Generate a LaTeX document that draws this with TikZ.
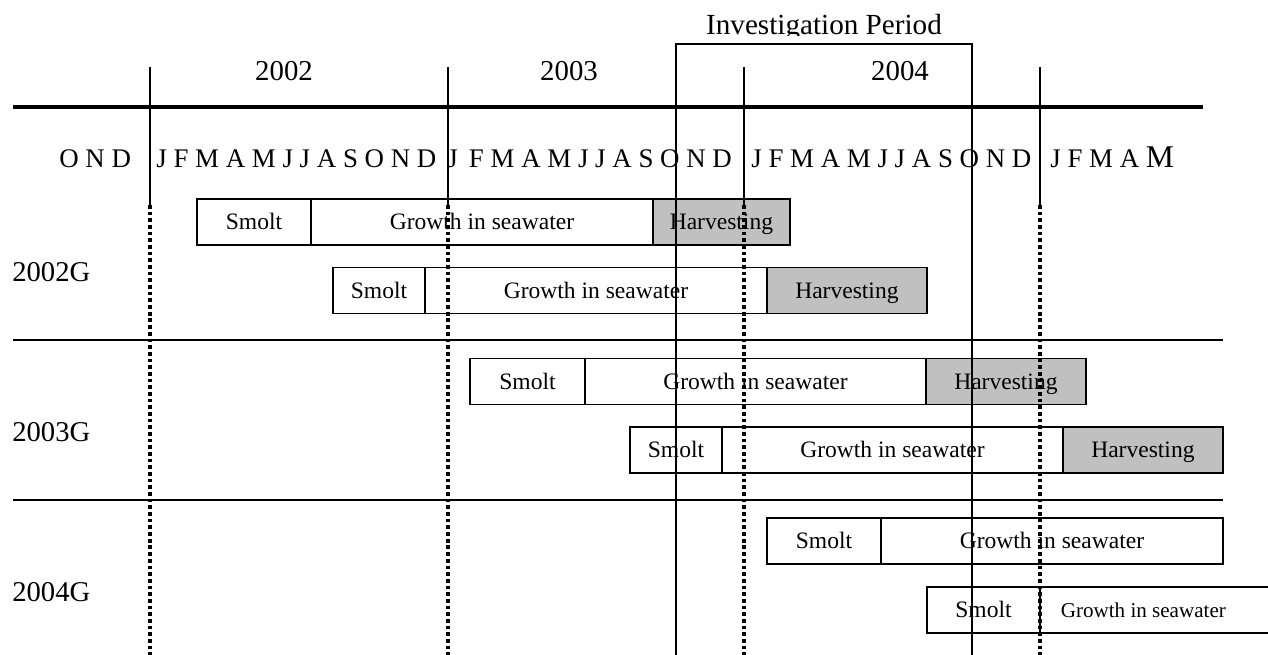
\documentclass[tikz,border=0pt]{standalone}
\usepackage{fontspec}
\setmainfont{Liberation Serif}
\usetikzlibrary{positioning}

\definecolor{harvestgray}{HTML}{C0C0C0}

\tikzset{
  stage/.style={draw, line width=1.1pt, outer sep=0pt, inner sep=0pt,
    minimum height=0.92cm, text height=0.87em, text depth=0pt,
    font=\fontsize{13.4}{15}\selectfont},
  smolt/.style={stage, fill=white},
  growth/.style={stage, fill=white},
  harvest/.style={stage, fill=harvestgray},
  yearline/.style={line width=1.2pt},
  yeardots/.style={line width=2.2pt, dash pattern=on 2.1pt off 1.7pt},
  periodline/.style={line width=0.9pt},
  rowsep/.style={line width=0.9pt},
  monthrow/.style={anchor=base west, inner sep=0pt, font=\fontsize{15.3}{17}\selectfont},
  yearlabel/.style={anchor=base, inner sep=0pt, font=\fontsize{16.4}{18}\selectfont},
  grouplabel/.style={anchor=base west, inner sep=0pt, font=\fontsize{16.3}{18}\selectfont}
}

\begin{document}
\begin{tikzpicture}[x=0.02cm, y=-0.02cm]
  \useasboundingbox (0,0) rectangle (1268,655);
  \clip (0,0) rectangle (1268,655);

  \node[smolt, minimum width=2.28cm, anchor=west] (s02a) at (197,222) {Smolt};
  \node[growth, minimum width=6.84cm, right=0pt of s02a] (g02a) {Growth in seawater};
  \node[harvest, minimum width=2.74cm, right=0pt of g02a] (h02a) {Harvesting};

  \node[smolt, minimum width=1.84cm, anchor=west] (s02b) at (333,290.5) {Smolt};
  \node[growth, minimum width=6.84cm, right=0pt of s02b] (g02b) {Growth in seawater};
  \node[harvest, minimum width=3.20cm, right=0pt of g02b] (h02b) {Harvesting};

  \node[smolt, minimum width=2.30cm, anchor=west] (s03a) at (470,381.5) {Smolt};
  \node[growth, minimum width=6.82cm, right=0pt of s03a] (g03a) {Growth in seawater};
  \node[harvest, minimum width=3.20cm, right=0pt of g03a] (h03a) {Harvesting};

  \node[smolt, minimum width=1.84cm, anchor=west] (s03b) at (630,450) {Smolt};
  \node[growth, minimum width=6.82cm, right=0pt of s03b] (g03b) {Growth in seawater};
  \node[harvest, minimum width=3.20cm, right=0pt of g03b] (h03b) {Harvesting};

  \node[smolt, minimum width=2.28cm, anchor=west] (s04a) at (767,541) {Smolt};
  \node[growth, minimum width=6.84cm, right=0pt of s04a] (g04a) {Growth in seawater};

  \node[smolt, minimum width=2.26cm, anchor=west] (s04b) at (927,610) {Smolt};
  \node[growth, minimum width=4.60cm, right=0pt of s04b,
    font=\fontsize{12}{14}\selectfont] (g04b) {Growth in seawater\kern1.1em};

  \draw[rowsep] (13,340) -- (1223,340);
  \draw[rowsep] (13,500) -- (1223,500);

  \draw[line width=2.3pt] (13,107) -- (1203,107);
  \foreach \x in {150,448,744,1040} {
    \draw[yearline] (\x,67) -- (\x,205);
    \draw[yeardots] (\x,205) -- (\x,655);
  }
  \draw[periodline] (676,655) -- (676,44) -- (972,44) -- (972,655);

  \begin{scope}
    \clip (600,0) rectangle (1050,35.5);
    \node[yearlabel, font=\fontsize{16.6}{18}\selectfont] (period) at (824,34.5) {Investigation Period};
  \end{scope}

  \node[yearlabel] (y2002) at (284,81) {2002};
  \node[yearlabel] (y2003) at (569,81) {2003};
  \node[yearlabel] (y2004) at (900,81) {2004};

  \node[monthrow] (m2001) at (59,168) {O N D};
  \node[monthrow] (m2002) at (156,168) {J F M A M J J A S O N D};
  \node[monthrow] (m2003) at (447,168) {J\, F M A M J J A S O N D};
  \node[monthrow] (m2004) at (751,168) {J F M A M J J A S O N D};
  \node[monthrow] (m2005) at (1050,168) {J F M A {\fontsize{18}{20}\selectfont M}};

  \node[grouplabel] (g2002) at (12,282) {2002G};
  \node[grouplabel] (g2003) at (12,441) {2003G};
  \node[grouplabel] (g2004) at (12,601) {2004G};
\end{tikzpicture}
\end{document}
